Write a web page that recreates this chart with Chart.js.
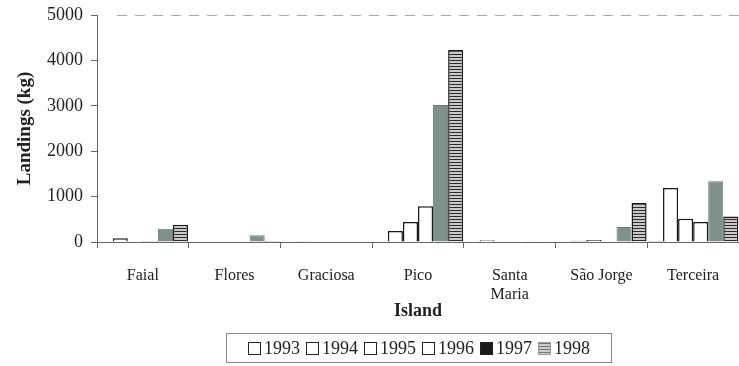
<!DOCTYPE html>
<html>
<head>
<meta charset="utf-8">
<script src="https://cdn.jsdelivr.net/npm/chart.js@4"></script>
<style>
    body { margin: 0; background: #fff; }
    #wrap { position: relative; width: 739px; height: 366px; }
    #legend {
        position: absolute; left: 226px; top: 333px; width: 386px; height: 30px;
        border: 1px solid #888; display: flex; align-items: center; justify-content: center;
        font-family: 'Liberation Serif', serif; font-size: 18px; color: #222; box-sizing: border-box;
    }
    .item { display: flex; align-items: center; margin: 0 3px; }
    .sw { width: 13px; height: 13px; border: 1.5px solid #222; margin-right: 3px; box-sizing: border-box; }
    .sw.black { background: #1a1a1a; }
    .sw.stripe { background: repeating-linear-gradient(to bottom, #777 0 1px, #ccc 1px 3px); border-color: #999; }
</style>
</head>
<body>
<div id="wrap">
    <canvas id="chart" width="739" height="366"></canvas>
    <div id="legend"></div>
</div>
<script>
// Data
const islands = ['Faial', 'Flores', 'Graciosa', 'Pico', ['Santa', 'Maria'], 'São Jorge', 'Terceira'];
const years = ['1993', '1994', '1995', '1996', '1997', '1998'];
const y1993 = [0, 0, 0, 0, 0, 0, 20];
const y1994 = [80, 0, 15, 240, 40, 25, 1190];
const y1995 = [5, 0, 0, 440, 0, 45, 510];
const y1996 = [20, 0, 0, 790, 0, 0, 440];
const y1997 = [290, 150, 0, 3020, 15, 330, 1340];
const y1998 = [380, 20, 0, 4230, 0, 860, 560];
const yTicks = [0, 1000, 2000, 3000, 4000, 5000];

// Striped fill for 1998
function makeStripes() {
    const c = document.createElement('canvas');
    c.width = 4; c.height = 3;
    const ctx = c.getContext('2d');
    ctx.fillStyle = '#c9c9c9';
    ctx.fillRect(0, 0, 4, 3);
    ctx.fillStyle = '#2a2a2a';
    ctx.fillRect(0, 0, 4, 1);
    return ctx.createPattern(c, 'repeat');
}
const stripes = makeStripes();

const serif = "'Liberation Serif', serif";

function plainSet(label, data) {
    return {
        label: label, data: data,
        backgroundColor: '#fff', borderColor: '#1a1a1a', borderWidth: 1.5,
        barPercentage: 1, categoryPercentage: 0.985
    };
}

// Faint broken top border of the plot area
const topLine = {
    id: 'topLine',
    afterDraw(chart) {
        const { ctx, chartArea } = chart;
        ctx.save();
        ctx.strokeStyle = '#aaa';
        ctx.lineWidth = 1;
        ctx.setLineDash([10, 8]);
        ctx.beginPath();
        ctx.moveTo(chartArea.left + 20, chartArea.top + 0.5);
        ctx.lineTo(chartArea.right, chartArea.top + 0.5);
        ctx.stroke();
        ctx.restore();
    }
};

new Chart(document.getElementById('chart'), {
    type: 'bar',
    data: {
        labels: islands,
        datasets: [
            plainSet(years[0], y1993),
            plainSet(years[1], y1994),
            plainSet(years[2], y1995),
            plainSet(years[3], y1996),
            {
                label: years[4], data: y1997,
                backgroundColor: '#7f918a', borderColor: '#6a7a74', borderWidth: 1,
                barPercentage: 1, categoryPercentage: 0.985
            },
            {
                label: years[5], data: y1998,
                backgroundColor: stripes, borderColor: '#1a1a1a', borderWidth: 1.5,
                barPercentage: 1, categoryPercentage: 0.985
            }
        ]
    },
    options: {
        responsive: false,
        animation: false,
        layout: { padding: { top: 15, right: 0, left: 10, bottom: 44 } },
        plugins: {
            legend: { display: false },
            tooltip: { enabled: false }
        },
        scales: {
            x: {
                grid: { drawOnChartArea: false, drawTicks: true, tickLength: 6, color: '#666', offset: true },
                border: { color: '#666', width: 1 },
                ticks: { color: '#222', font: { family: serif, size: 16 }, padding: 18, maxRotation: 0, autoSkip: false },
                title: { display: true, text: 'Island', color: '#222', font: { family: serif, size: 18, weight: 'bold' }, padding: { top: 0, bottom: 0 } },
                afterFit(scale) { scale.height = 80; }
            },
            y: {
                min: 0, max: 5000,
                afterBuildTicks(scale) { scale.ticks = yTicks.map(v => ({ value: v })); },
                grid: { drawOnChartArea: false, drawTicks: true, tickLength: 6, color: '#666' },
                border: { color: '#666', width: 1 },
                ticks: { color: '#222', font: { family: serif, size: 18 }, padding: 8, callback: v => String(v) },
                title: { display: true, text: 'Landings (kg)', color: '#222', font: { family: serif, size: 19, weight: 'bold' }, padding: { bottom: 4 } },
                afterFit(scale) { scale.width = 87; scale.paddingTop = 0; scale.paddingBottom = 0; }
            }
        }
    },
    plugins: [topLine]
});

// Legend
const legend = document.getElementById('legend');
years.forEach((y, i) => {
    const item = document.createElement('span');
    item.className = 'item';
    const sw = document.createElement('span');
    sw.className = 'sw' + (i === 4 ? ' black' : i === 5 ? ' stripe' : '');
    item.appendChild(sw);
    item.appendChild(document.createTextNode(y));
    legend.appendChild(item);
});
</script>
</body>
</html>
